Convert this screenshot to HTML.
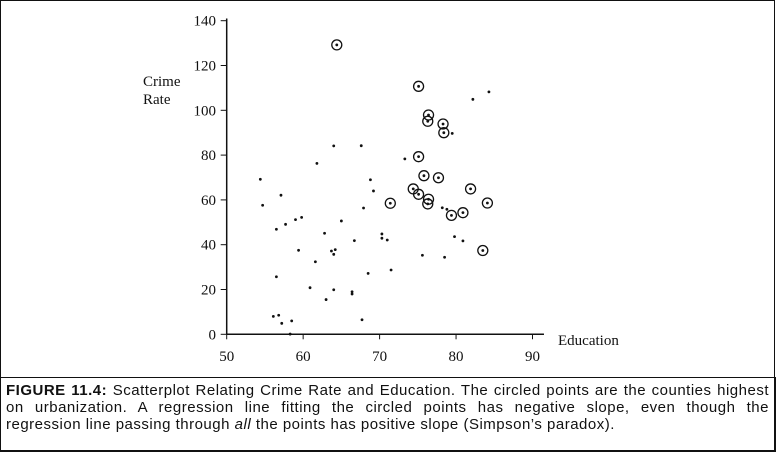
<!DOCTYPE html>
<html><head><meta charset="utf-8"><style>
body{margin:0;background:#fff;width:778px;height:456px;overflow:hidden;position:relative}
#frame{position:absolute;left:0;top:0;width:775px;height:451px;border:1.5px solid #111;box-sizing:border-box}
svg text{font-family:"Liberation Serif",serif}
#cap{position:absolute;left:0;top:377px;width:776px;height:75px;border:1.5px solid #111;box-sizing:border-box;padding:4px 6px 0 5px;font-family:"Liberation Sans",sans-serif;font-size:15px;letter-spacing:0.5px;line-height:17px;color:#111}
#cap div{text-align:justify;text-align-last:justify;white-space:nowrap;overflow:hidden}
#cap div.last{text-align-last:left}
</style></head><body>
<div id="frame"></div>
<svg id="chart" width="778" height="378" style="position:absolute;left:0;top:0"></svg>
<div id="cap">
<div><b>FIGURE 11.4:</b> Scatterplot Relating Crime Rate and Education. The circled points are the counties highest</div>
<div>on urbanization. A regression line fitting the circled points has negative slope, even though the</div>
<div class="last">regression line passing through <i>all</i> the points has positive slope (Simpson’s paradox).</div>
</div>
<script>
const circledX=[64.4,75.1,76.4,76.3,78.3,78.4,75.1,75.8,77.7,74.4,75.1,76.4,76.3,71.4,81.9,84.1,80.9,79.4,83.5];
const circledY=[129.2,110.7,97.9,95.1,93.9,90.0,79.3,70.8,69.9,64.9,62.5,60.3,58.2,58.5,64.9,58.6,54.3,53.1,37.4];
const dotX=[54.4,54.7,57.1,56.5,57.7,59.0,59.8,59.4,56.5,56.1,56.8,57.2,58.5,58.3,60.9,61.6,61.8,62.8,63.0,63.7,64.2,64.0,64.0,64.0,65.0,66.4,66.4,66.7,67.6,67.7,67.9,68.8,69.2,68.5,70.3,70.3,71.0,71.5,73.3,75.6,78.2,78.8,79.5,78.5,79.8,80.9,82.2,84.3];
const dotY=[69.2,57.6,62.1,46.9,49.1,51.2,52.2,37.5,25.7,8.0,8.5,4.9,6.0,0.1,20.8,32.4,76.3,45.1,15.5,37.2,37.8,35.7,84.1,19.9,50.6,19.0,18.0,41.8,84.2,6.5,56.4,69.0,64.0,27.2,44.8,42.9,42.1,28.7,78.3,35.3,56.5,55.8,89.7,34.4,43.6,41.7,104.9,108.2];
const xTicks=[50,60,70,80,90];
const yTicks=[0,20,40,60,80,100,120,140];
const NS="http://www.w3.org/2000/svg";
const svg=document.getElementById('chart');
const X=v=>226.7+(v-50)*7.645;
const Y=v=>334.3-v*2.24;
function mk(t,a){const e=document.createElementNS(NS,t);for(const k in a)e.setAttribute(k,a[k]);svg.appendChild(e);return e;}
let e=mk('line',{x1:X(50),y1:Y(0),x2:X(91.5),y2:Y(0),stroke:'#111','stroke-width':1.5});


e=mk('line',{x1:X(50),y1:Y(0),x2:X(50),y2:Y(141),stroke:'#111','stroke-width':1.5});


xTicks.forEach(t=>{
 let l=mk('line',{x1:X(t),y1:Y(0),x2:X(t),y2:Y(0)+5,stroke:'#111','stroke-width':1});
 
 
 let s=mk('text',{x:X(t),y:361,'text-anchor':'middle','font-size':15,fill:'#111'});s.textContent=t;
 
 
});
yTicks.forEach(t=>{
 let l=mk('line',{x1:X(50)-6,y1:Y(t),x2:X(50),y2:Y(t),stroke:'#111','stroke-width':1});
 
 
 let s=mk('text',{x:216,y:Y(t)+5,'text-anchor':'end','font-size':15,fill:'#111'});s.textContent=t;
 
 
});
let t1=mk('text',{x:143,y:86,'font-size':15,fill:'#111'});t1.textContent='Crime';


let t2=mk('text',{x:143,y:104,'font-size':15,fill:'#111'});t2.textContent='Rate';


let t3=mk('text',{x:558,y:345,'font-size':15,fill:'#111'});t3.textContent='Education';


dotX.forEach((v,i)=>{
 let c=mk('circle',{cx:X(v),cy:Y(dotY[i]),r:1.4,fill:'#111'});
 
 
});
circledX.forEach((v,i)=>{
 let c=mk('circle',{cx:X(v),cy:Y(circledY[i]),r:5,fill:'none',stroke:'#111','stroke-width':1.3});
 
 
 let d=mk('circle',{cx:X(v),cy:Y(circledY[i]),r:1.4,fill:'#111'});
 
 
});
</script>
</body></html>
